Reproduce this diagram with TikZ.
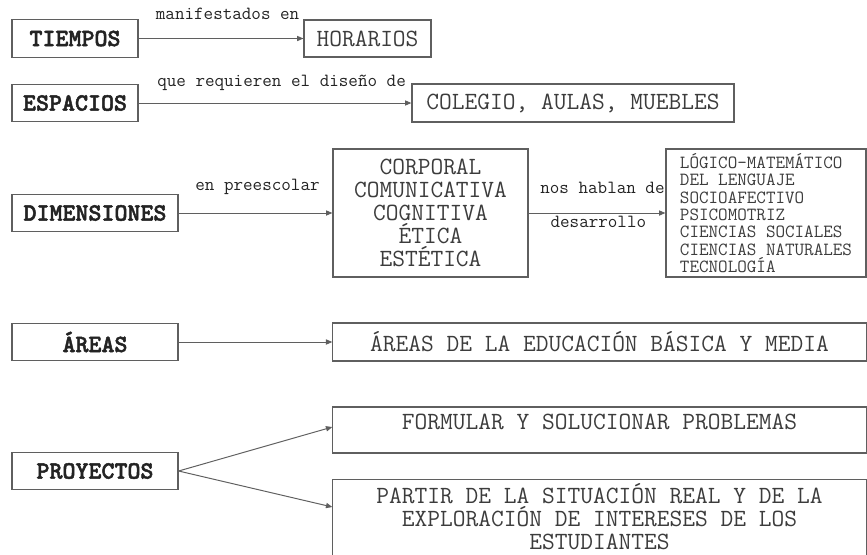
\documentclass[tikz,border=0pt]{standalone}
\usepackage{fontspec}
\newfontfamily\headfont{lmmonolt10-bold}[Extension=.otf, FakeBold=2]
\usepackage{xcolor}
\usetikzlibrary{arrows.meta}

\definecolor{boxgray}{RGB}{95,95,95}
\definecolor{txtgray}{RGB}{60,60,60}
\definecolor{headgray}{RGB}{35,35,35}

\begin{document}
\begin{tikzpicture}[
    x=0.025cm, y=-0.025cm,
    box/.style={rectangle, draw=boxgray, line width=0.8pt, inner sep=0pt, text=txtgray,
      font=\ttfamily\fontsize{17.6}{16.5}\selectfont, align=center},
    head/.style={box, text=headgray, font=\headfont\fontsize{17.6}{16.5}\selectfont, minimum height=0.94cm},
    item/.style={box, minimum height=0.95cm},
    lab/.style={font=\ttfamily\fontsize{13.2}{12.3}\selectfont, text=headgray, inner sep=0pt},
    conn/.style={draw=boxgray, line width=0.7pt, -{Triangle[length=1.6mm, width=1.3mm]}}
  ]
  \useasboundingbox (0,0) rectangle (867,554);

  % left column
  \node[head, minimum width=3.15cm] (tiempos) at (75,38.5) {TIEMPOS};
  \node[head, minimum width=3.15cm] (espacios) at (75,103) {ESPACIOS};
  \node[head, minimum width=4.15cm] (dimensiones) at (95,213) {DIMENSIONES};
  \node[head, minimum width=4.15cm] (areas) at (95,342) {ÁREAS};
  \node[head, minimum width=4.15cm] (proyectos) at (95,471) {PROYECTOS};

  % right side
  \node[item, minimum width=3.175cm, minimum height=0.925cm] (horarios) at (367.5,38.5) {HORARIOS};
  \node[item, minimum width=8.05cm] (colegio) at (573,103) {COLEGIO, AULAS, MUEBLES};
  \node[box, minimum width=4.875cm, minimum height=3.2cm] (corporal) at (430.5,213)
    {CORPORAL\\COMUNICATIVA\\COGNITIVA\\ÉTICA\\ESTÉTICA};
  \node[box, minimum width=5cm, minimum height=3.2cm, align=left,
    font=\ttfamily\fontsize{13.2}{12.3}\selectfont] (logico) at (766,213)
    {LÓGICO-MATEMÁTICO\\DEL LENGUAJE\\SOCIOAFECTIVO\\PSICOMOTRIZ\\CIENCIAS SOCIALES\\CIENCIAS NATURALES\\TECNOLOGÍA};
  \node[item, minimum width=13.325cm] (areasedu) at (599.5,342) {ÁREAS DE LA EDUCACIÓN BÁSICA Y MEDIA};
  \node[box, minimum width=13.325cm, text height=0.5625cm, text depth=0.5875cm] (formular) at (599.5,430)
    {FORMULAR Y SOLUCIONAR PROBLEMAS};
  \node[box, anchor=north, inner ysep=0.09cm] (partir) at (599.5,479)
    {\parbox[t][2.5cm][t]{13.325cm}{\centering PARTIR DE LA SITUACIÓN REAL Y DE LA\\
      EXPLORACIÓN DE INTERESES DE LOS\\ESTUDIANTES}};

  % connectors
  \draw[conn] (tiempos) -- node[lab, pos=0.54, yshift=0.61cm] (lmanif) {manifestados en} (horarios);
  \draw[conn] (espacios) -- node[lab, pos=0.524, yshift=0.5cm] (lreq) {que requieren el diseño de} (colegio);
  \draw[conn] (dimensiones) -- node[lab, pos=0.513, yshift=0.66cm] (lpre) {en preescolar} (corporal);
  \draw[conn] (corporal) -- node[lab, pos=0.54, yshift=0.625cm] (lnos) {nos hablan de}
    node[lab, pos=0.51, yshift=-0.23cm] (ldes) {desarrollo} (logico);
  \draw[conn] (areas) -- (areasedu);
  \draw[conn] (proyectos.east) -- ([yshift=0.075cm]formular.west);
  \draw[conn] (proyectos.east) -- ([yshift=-0.7cm]partir.north west);
\end{tikzpicture}
\end{document}
